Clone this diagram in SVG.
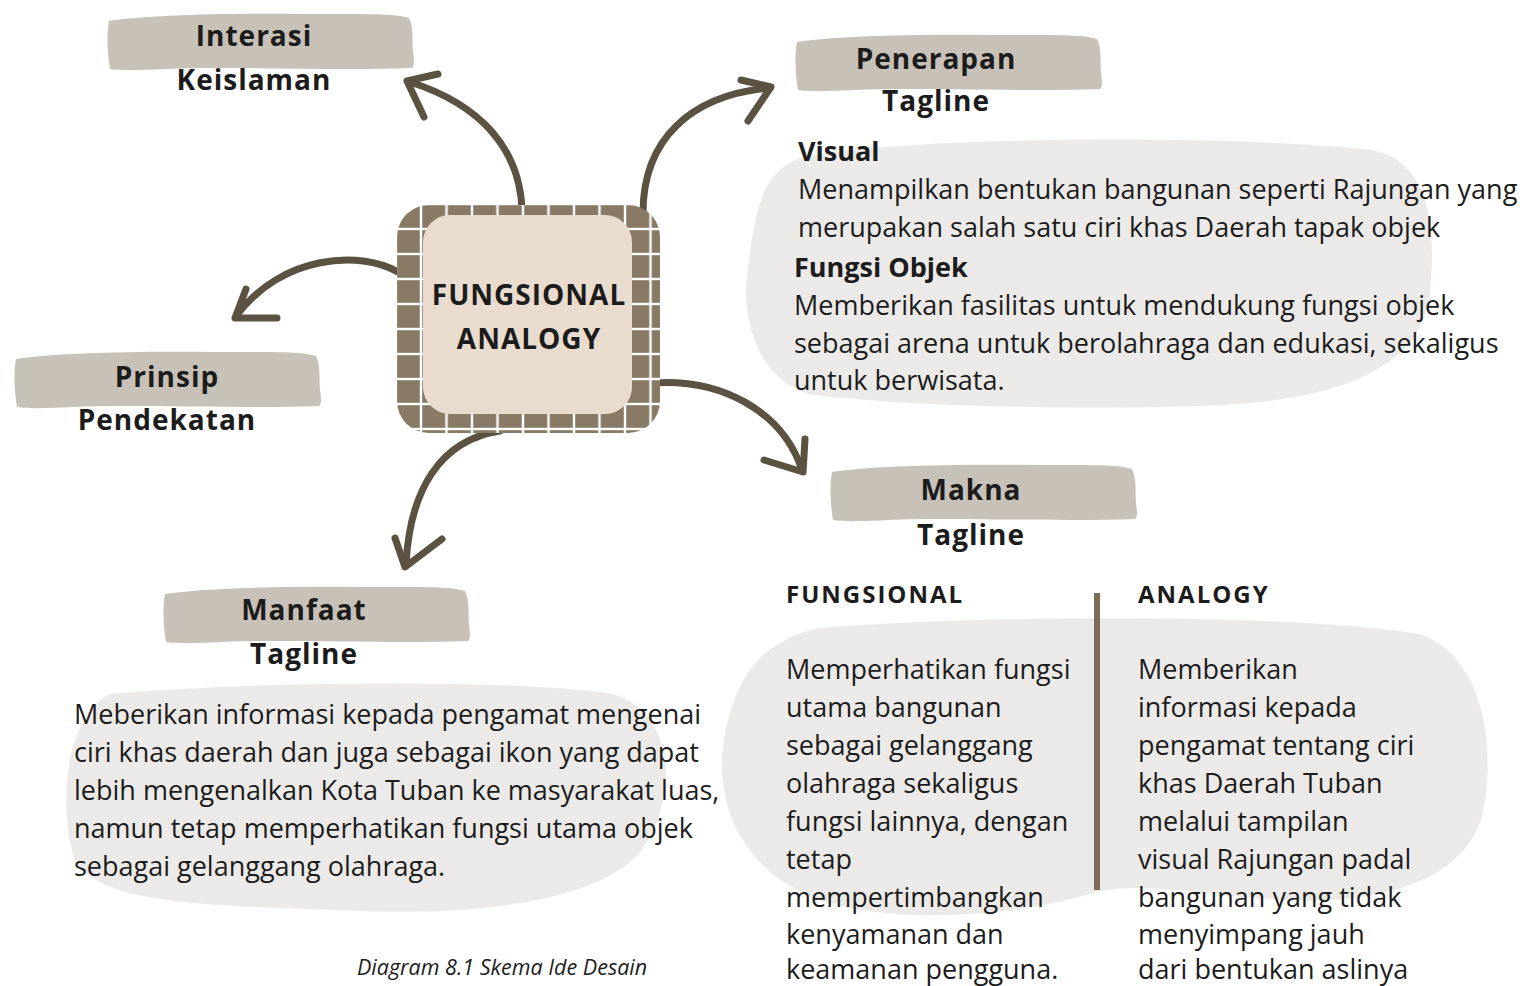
<svg xmlns="http://www.w3.org/2000/svg" xmlns:xlink="http://www.w3.org/1999/xlink" width="1535" height="986" viewBox="0 0 1535 986">
<defs>
<style>
.t{font-family:"Open Sans","Liberation Sans",sans-serif;fill:#1c1c1c}
.title{font-size:28px;font-weight:700;text-anchor:middle;letter-spacing:1px}
.body{font-size:27px}
.bh{font-size:27px;font-weight:700}
.col{font-size:24px;font-weight:700;letter-spacing:2px}
.cap{font-size:21.5px;font-style:italic}
.blob{fill:#ebeae8}
.arr{fill:none;stroke:#5c5242;stroke-width:7;stroke-linecap:round;stroke-linejoin:round}
</style>
<pattern id="tiles" patternUnits="userSpaceOnUse" x="421" y="229" width="25.5" height="25">
<rect width="25.5" height="25" fill="#ffffff"/>
<rect x="1.2" y="1.2" width="23.1" height="22.6" fill="#887a64"/>
</pattern>
<path id="ban" fill="#c8c1b7" d="M2 9 C40 3 120 1 200 2 C250 2 290 1 302 6 C307 16 305 30 306 40 C307 48 308 53 305 56 C230 59 120 54 60 57 C35 58 15 59 3 57 C1 45 -1 25 2 9 Z"/>
</defs>

<g id="blobs">
<path class="blob" d="M800 158 C900 135 1250 135 1372 150 C1432 162 1436 232 1430 292 C1424 362 1350 402 1200 406 C1050 410 900 406 808 394 C758 378 740 320 748 268 C755 210 762 172 800 158 Z"/>
<path class="blob" d="M110 694 C250 681 520 679 612 694 C672 710 682 790 642 850 C602 900 480 916 360 911 C220 906 100 906 75 860 C60 820 60 720 110 694 Z"/>
<path class="blob" d="M820 628 C1000 614 1300 614 1420 634 C1490 660 1496 760 1481 820 C1461 880 1380 906 1280 900 C1200 895 1150 882 1100 891 C1020 916 900 926 820 900 C740 872 714 800 724 740 C734 680 760 640 820 628 Z"/>
</g>

<g id="connectors">
<path class="arr" d="M522 210 C520 150 482 105 410 82"/>
<path class="arr" d="M438 74 L407 81 L424 117"/>
<path class="arr" d="M643 213 C643 140 690 95 770 88"/>
<path class="arr" d="M741 80 L771 87 L748 121"/>
<path class="arr" d="M398 272 C360 250 282 255 237 315"/>
<path class="arr" d="M246 289 L235 318 L277 318"/>
<path class="arr" d="M652 383 C720 378 782 410 802 470"/>
<path class="arr" d="M805 439 L803 472 L764 460"/>
<path class="arr" d="M500 431 C440 440 410 490 406 564"/>
<path class="arr" d="M395 538 L405 567 L442 539"/>
<line x1="1097" y1="593" x2="1097" y2="890" stroke="#7b6d58" stroke-width="6"/>
</g>

<g id="center">
<rect x="397" y="205" width="263" height="228" rx="32" fill="url(#tiles)"/>
<rect x="423" y="215" width="209" height="199" rx="27" fill="#e9dccf"/>
<text class="t title" x="529" y="305">FUNGSIONAL</text>
<text class="t title" x="529" y="349">ANALOGY</text>
</g>

<g id="interasi">
<use xlink:href="#ban" transform="translate(107,12)"/>
<text class="t title" x="254" y="46">Interasi</text>
<text class="t title" x="254" y="90">Keislaman</text>
</g>

<g id="penerapan">
<use xlink:href="#ban" transform="translate(795,33)"/>
<text class="t title" x="936" y="69">Penerapan</text>
<text class="t title" x="936" y="111">Tagline</text>
<text class="t bh" x="798" y="161">Visual</text>
<text class="t body" x="798" y="199">Menampilkan bentukan bangunan seperti Rajungan yang</text>
<text class="t body" x="798" y="237">merupakan salah satu ciri khas Daerah tapak objek</text>
<text class="t bh" x="794" y="277">Fungsi Objek</text>
<text class="t body" x="794" y="315">Memberikan fasilitas untuk mendukung fungsi objek</text>
<text class="t body" x="794" y="353">sebagai arena untuk berolahraga dan edukasi, sekaligus</text>
<text class="t body" x="794" y="390">untuk berwisata.</text>
</g>

<g id="prinsip">
<use xlink:href="#ban" transform="translate(14,350)"/>
<text class="t title" x="167" y="387">Prinsip</text>
<text class="t title" x="167" y="430">Pendekatan</text>
</g>

<g id="manfaat">
<use xlink:href="#ban" transform="translate(163,585)"/>
<text class="t title" x="304" y="620">Manfaat</text>
<text class="t title" x="304" y="664">Tagline</text>
<text class="t body" x="74" y="724">Meberikan informasi kepada pengamat mengenai</text>
<text class="t body" x="74" y="762">ciri khas daerah dan juga sebagai ikon yang dapat</text>
<text class="t body" x="74" y="800">lebih mengenalkan Kota Tuban ke masyarakat luas,</text>
<text class="t body" x="74" y="838">namun tetap memperhatikan fungsi utama objek</text>
<text class="t body" x="74" y="876">sebagai gelanggang olahraga.</text>
</g>

<g id="makna">
<use xlink:href="#ban" transform="translate(830,463)"/>
<text class="t title" x="971" y="500">Makna</text>
<text class="t title" x="971" y="545">Tagline</text>
<text class="t col" x="786" y="603">FUNGSIONAL</text>
<text class="t col" x="1138" y="603">ANALOGY</text>
<text class="t body" x="786" y="679">Memperhatikan fungsi</text>
<text class="t body" x="786" y="717">utama bangunan</text>
<text class="t body" x="786" y="755">sebagai gelanggang</text>
<text class="t body" x="786" y="793">olahraga sekaligus</text>
<text class="t body" x="786" y="831">fungsi lainnya, dengan</text>
<text class="t body" x="786" y="869">tetap</text>
<text class="t body" x="786" y="907">mempertimbangkan</text>
<text class="t body" x="786" y="944">kenyamanan dan</text>
<text class="t body" x="786" y="979">keamanan pengguna.</text>
<text class="t body" x="1138" y="679">Memberikan</text>
<text class="t body" x="1138" y="717">informasi kepada</text>
<text class="t body" x="1138" y="755">pengamat tentang ciri</text>
<text class="t body" x="1138" y="793">khas Daerah Tuban</text>
<text class="t body" x="1138" y="831">melalui tampilan</text>
<text class="t body" x="1138" y="869">visual Rajungan padal</text>
<text class="t body" x="1138" y="907">bangunan yang tidak</text>
<text class="t body" x="1138" y="944">menyimpang jauh</text>
<text class="t body" x="1138" y="979">dari bentukan aslinya</text>
</g>

<g id="caption">
<text class="t cap" x="357" y="975">Diagram 8.1 Skema Ide Desain</text>
</g>
</svg>
